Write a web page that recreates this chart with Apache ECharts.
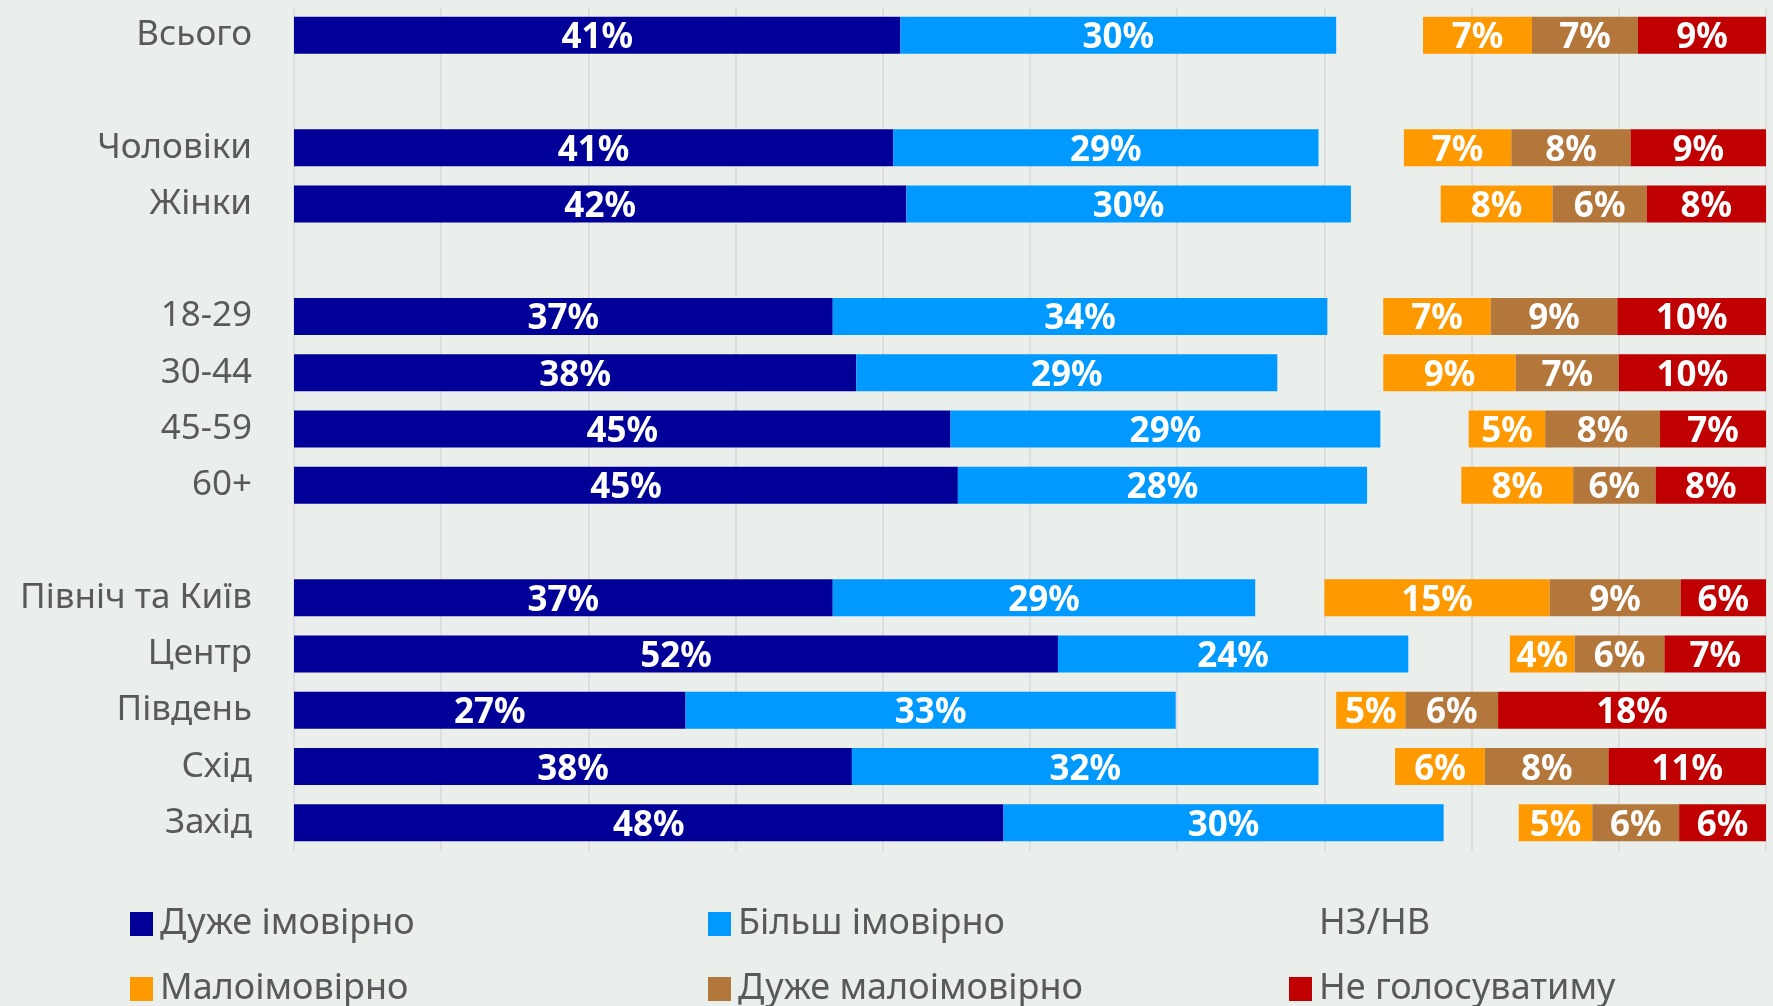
<!DOCTYPE html>
<html>
<head>
<meta charset="utf-8">
<script src="https://cdn.jsdelivr.net/npm/echarts@6/dist/echarts.min.js"></script>
<style>
    html, body {margin: 0; padding: 0; background: #ebefec;}
    #main {width: 1773px; height: 1006px;}
</style>
</head>
<body>
<div id="main"></div>
<script>
// blank rows separate the groups
const categories = ['Всього', '', 'Чоловіки', 'Жінки', ' ', '18-29', '30-44', '45-59', '60+', '  ',
    'Північ та Київ', 'Центр', 'Південь', 'Схід', 'Захід'];

const veryLikely   = [41.2, null, 40.7, 41.6, null, 36.6, 38.2, 44.6, 45.1, null, 36.6, 51.9, 26.6, 37.9, 48.2];
const ratherLikely = [29.6, null, 28.9, 30.2, null, 33.6, 28.6, 29.2, 27.8, null, 28.7, 23.8, 33.3, 31.7, 29.9];
const hardToSay    = [5.9, null, 5.8, 6.1, null, 3.8, 7.2, 6.0, 6.4, null, 4.7, 6.9, 10.9, 5.2, 5.1];
const unlikely     = [7.4, null, 7.3, 7.6, null, 7.3, 9.0, 5.2, 7.6, null, 15.3, 4.4, 4.7, 6.1, 5.0];
const veryUnlikely = [7.2, null, 8.1, 6.4, null, 8.6, 7.0, 7.8, 5.6, null, 8.9, 6.1, 6.3, 8.4, 5.9];
const wontVote     = [8.7, null, 9.2, 8.1, null, 10.1, 10.0, 7.2, 7.5, null, 5.8, 6.9, 18.2, 10.7, 5.9];

const font = "'Noto Sans', 'Open Sans', sans-serif";

const myChart = echarts.init(document.getElementById('main'));

const label = {
    show: true,
    position: 'inside',
    offset: [0, 3],
    color: '#fff',
    fontFamily: font,
    fontWeight: 'bold',
    fontSize: 35,
    formatter: (p) => p.value == null ? '' : Math.round(p.value) + '%'
};

function bar(name, data, color, withLabel) {
    return {
        name: name,
        type: 'bar',
        stack: 'all',
        barWidth: 37,
        data: data,
        itemStyle: {color: color},
        label: withLabel ? label : {show: false},
        emphasis: {disabled: true}
    };
}

function legendAt(name, left, top) {
    return {
        data: [name],
        left: left,
        top: top,
        icon: 'rect',
        itemWidth: 23,
        itemHeight: 24,
        itemGap: 10,
        selectedMode: false,
        textStyle: {color: '#595959', fontFamily: font, fontSize: 36, padding: [0, 0, 0, 2]}
    };
}

const option = {
    backgroundColor: '#ebefec',
    animation: false,
    grid: {left: 294, right: 7, top: 7, bottom: 155},
    legend: [
        legendAt('Дуже імовірно', 125, 901),
        legendAt('Малоімовірно', 125, 966),
        legendAt('Більш імовірно', 703, 901),
        legendAt('Дуже малоімовірно', 703, 966),
        legendAt('НЗ/НВ', 1284, 901),
        legendAt('Не голосуватиму', 1284, 966)
    ],
    xAxis: {
        type: 'value',
        min: 0,
        max: 100,
        interval: 10,
        axisLabel: {show: false},
        axisLine: {show: false},
        axisTick: {show: false},
        splitLine: {lineStyle: {color: '#d9d9d9', width: 1.5}}
    },
    yAxis: {
        type: 'category',
        inverse: true,
        data: categories,
        axisLine: {show: false},
        axisTick: {show: false},
        axisLabel: {color: '#595959', fontFamily: font, fontSize: 35, margin: 42, padding: [5, 0, 0, 0]}
    },
    series: [
        bar('Дуже імовірно', veryLikely, '#000099', true),
        bar('Більш імовірно', ratherLikely, '#0099ff', true),
        bar('НЗ/НВ', hardToSay, 'transparent', false),
        bar('Малоімовірно', unlikely, '#ff9900', true),
        bar('Дуже малоімовірно', veryUnlikely, '#b4773b', true),
        bar('Не голосуватиму', wontVote, '#c00000', true)
    ]
};

myChart.setOption(option);
</script>
</body>
</html>
